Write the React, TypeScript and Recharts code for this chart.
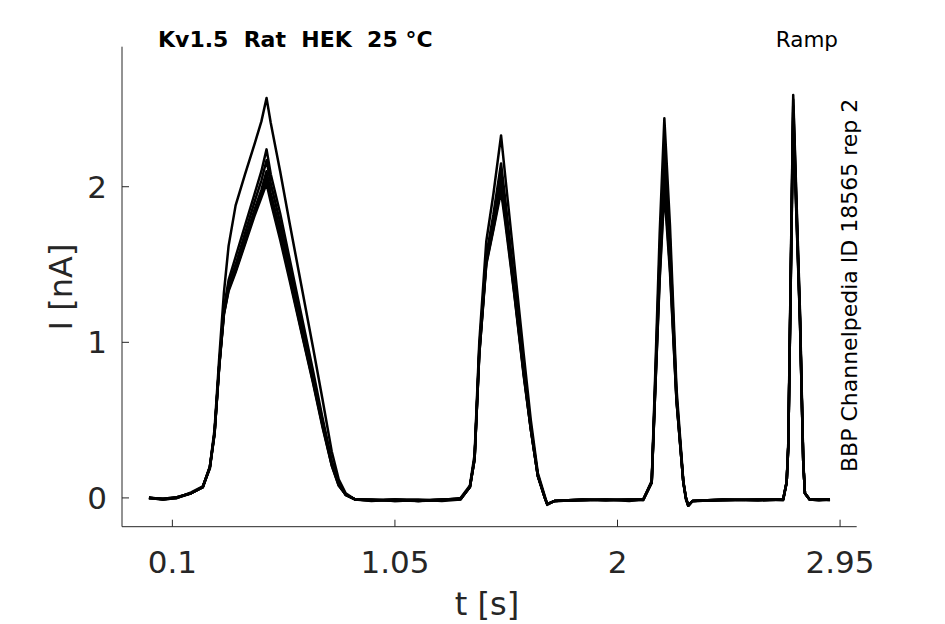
import React from 'react';
import { LineChart, Line, XAxis, YAxis } from 'recharts';

// time [s], shared by all sweeps
const times = [
  0, 0.06, 0.12, 0.18, 0.23, 0.26, 0.28, 0.3, 0.32, 0.34,
  0.37, 0.41, 0.45, 0.48, 0.502, 0.52, 0.56, 0.6, 0.65, 0.7,
  0.74, 0.78, 0.81, 0.84, 0.88, 0.95, 1.05, 1.15, 1.25, 1.33,
  1.37, 1.39, 1.41, 1.44, 1.47, 1.503, 1.52, 1.56, 1.6, 1.63,
  1.66, 1.69, 1.7, 1.73, 1.85, 1.95, 2.05, 2.11, 2.146, 2.16,
  2.18, 2.2, 2.224, 2.252, 2.281, 2.292, 2.302, 2.32, 2.45, 2.6,
  2.707, 2.722, 2.729, 2.75, 2.779, 2.793, 2.8, 2.82, 2.86, 2.907,
];

// current [nA], one array per sweep
const sweepA = [
  0, -0.01, 0.005, 0.03, 0.07, 0.2, 0.44, 0.9, 1.32, 1.62,
  1.88, 2.08, 2.27, 2.42, 2.57, 2.41, 2.1, 1.77, 1.37, 0.97,
  0.64, 0.3, 0.12, 0.03, -0.01, -0.015, -0.01, -0.02, -0.015, 0,
  0.08, 0.28, 1.0, 1.65, 1.95, 2.33, 2.08, 1.5, 0.92, 0.5,
  0.16, 0.01, -0.04, -0.02, -0.015, -0.01, -0.015, -0.01, 0.11, 0.75,
  1.7, 2.44, 1.75, 0.7, 0.11, 0, -0.05, -0.02, -0.015, -0.01,
  -0.01, 0.1, 0.36, 2.59, 1.2, 0.24, 0.03, -0.01, -0.01, -0.01,
];
const sweepB = [
  0, -0.005, 0, 0.035, 0.075, 0.19, 0.42, 0.86, 1.22, 1.4,
  1.55, 1.75, 1.95, 2.1, 2.24, 2.08, 1.83, 1.54, 1.18, 0.82,
  0.52, 0.24, 0.1, 0.02, -0.01, -0.01, -0.02, -0.015, -0.01, -0.005,
  0.07, 0.26, 0.96, 1.56, 1.82, 2.15, 1.93, 1.38, 0.84, 0.46,
  0.15, 0, -0.04, -0.02, -0.01, -0.015, -0.01, -0.01, 0.1, 0.7,
  1.58, 2.28, 1.65, 0.66, 0.1, 0, -0.05, -0.02, -0.01, -0.015,
  -0.01, 0.1, 0.34, 2.56, 1.17, 0.23, 0.03, -0.01, -0.015, -0.01,
];
const sweepC = [
  0.005, -0.01, 0, 0.03, 0.07, 0.2, 0.41, 0.85, 1.2, 1.37,
  1.5, 1.7, 1.9, 2.04, 2.17, 2.02, 1.77, 1.49, 1.14, 0.79,
  0.5, 0.23, 0.09, 0.02, -0.01, -0.02, -0.01, -0.01, -0.02, -0.01,
  0.07, 0.25, 0.94, 1.53, 1.78, 2.1, 1.89, 1.35, 0.82, 0.45,
  0.14, 0, -0.04, -0.02, -0.015, -0.01, -0.02, -0.01, 0.1, 0.68,
  1.52, 2.2, 1.6, 0.64, 0.1, -0.01, -0.05, -0.02, -0.015, -0.01,
  -0.015, 0.1, 0.33, 2.52, 1.15, 0.22, 0.03, -0.01, -0.01, -0.015,
];
const sweepD = [
  0, -0.005, 0.005, 0.03, 0.07, 0.2, 0.42, 0.85, 1.19, 1.35,
  1.48, 1.66, 1.85, 1.98, 2.1, 1.96, 1.72, 1.45, 1.1, 0.76,
  0.48, 0.22, 0.09, 0.02, -0.01, -0.015, -0.015, -0.02, -0.01, -0.01,
  0.07, 0.25, 0.93, 1.52, 1.75, 2.05, 1.85, 1.33, 0.8, 0.44,
  0.14, 0, -0.045, -0.02, -0.01, -0.015, -0.01, -0.015, 0.1, 0.66,
  1.46, 2.1, 1.53, 0.63, 0.1, 0, -0.05, -0.02, -0.01, -0.015,
  -0.01, 0.1, 0.33, 2.48, 1.14, 0.22, 0.03, -0.01, -0.015, -0.01,
];
const sweepE = [
  0, -0.01, 0, 0.03, 0.07, 0.19, 0.41, 0.84, 1.18, 1.34,
  1.46, 1.64, 1.83, 1.95, 2.06, 1.93, 1.69, 1.42, 1.08, 0.75,
  0.47, 0.21, 0.08, 0.02, -0.01, -0.01, -0.02, -0.015, -0.015, -0.005,
  0.07, 0.25, 0.92, 1.51, 1.73, 2.0, 1.81, 1.31, 0.79, 0.44,
  0.14, 0, -0.04, -0.02, -0.015, -0.01, -0.015, -0.01, 0.1, 0.65,
  1.42, 2.02, 1.48, 0.62, 0.1, 0, -0.05, -0.02, -0.015, -0.01,
  -0.01, 0.1, 0.33, 2.45, 1.13, 0.22, 0.03, -0.01, -0.01, -0.01,
];
const sweepF = [
  0, -0.005, 0.005, 0.03, 0.07, 0.2, 0.42, 0.85, 1.18, 1.33,
  1.45, 1.63, 1.81, 1.93, 2.02, 1.9, 1.66, 1.4, 1.07, 0.74,
  0.46, 0.21, 0.08, 0.02, -0.01, -0.015, -0.01, -0.02, -0.01, -0.005,
  0.07, 0.25, 0.92, 1.5, 1.72, 1.97, 1.78, 1.3, 0.78, 0.44,
  0.14, 0, -0.04, -0.02, -0.01, -0.015, -0.01, -0.01, 0.1, 0.65,
  1.4, 1.97, 1.45, 0.62, 0.1, 0, -0.05, -0.02, -0.01, -0.015,
  -0.01, 0.1, 0.33, 2.42, 1.12, 0.22, 0.03, -0.01, -0.01, -0.01,
];

const xTicks = [0.1, 1.05, 2, 2.95];
const yTicks = [0, 1, 2];

const sweeps = { a: sweepA, b: sweepB, c: sweepC, d: sweepD, e: sweepE, f: sweepF };
const data = times.map((t, i) => {
  const row: Record<string, number> = { t };
  Object.entries(sweeps).forEach(([k, arr]) => {
    row[k] = arr[i];
  });
  return row;
});

const axisColor = '#262626';
const font = 'DejaVu Sans';

const App = () => {
  return (
    <div
      style={{
        position: 'fixed',
        left: 0,
        top: 0,
        width: 945,
        height: 624,
        background: 'white',
      }}
    >
      <LineChart
        width={945}
        height={624}
        data={data}
        margin={{ top: 46.7, right: 88.3, left: 62, bottom: 57.3 }}
      >
        <XAxis
          dataKey="t"
          type="number"
          domain={[-0.115, 3.021]}
          allowDataOverflow
          ticks={xTicks}
          tickFormatter={(v) => String(v)}
          height={40}
          stroke={axisColor}
          tickSize={-7}
          tickMargin={31}
          tick={{ fontSize: 31, fill: axisColor, fontFamily: font }}
        />
        <YAxis
          type="number"
          domain={[-0.185, 2.9]}
          allowDataOverflow
          ticks={yTicks}
          width={60}
          stroke={axisColor}
          tickSize={-7}
          tickMargin={22}
          tick={{ fontSize: 31, fill: axisColor, fontFamily: font }}
        />
        {Object.keys(sweeps).map((k) => (
          <Line
            key={k}
            type="linear"
            dataKey={k}
            stroke="#000"
            strokeWidth={2.5}
            strokeLinejoin="round"
            dot={false}
            isAnimationActive={false}
          />
        ))}
      </LineChart>
      <svg
        width={945}
        height={624}
        style={{ position: 'absolute', left: 0, top: 0, pointerEvents: 'none' }}
        fontFamily={font}
      >
        <text x={158} y={47} fontSize={22} fontWeight="bold" fill="#000" style={{ whiteSpace: 'pre' }}>
          {'Kv1.5  Rat  HEK  25 °C'}
        </text>
        <text x={838} y={47} fontSize={21.5} fill="#000" textAnchor="end">
          Ramp
        </text>
        <text
          x={857}
          y={472}
          fontSize={22}
          fill="#000"
          transform="rotate(-90 857 472)"
        >
          BBP Channelpedia ID 18565 rep 2
        </text>
        <text x={487} y={615} fontSize={32} fill={axisColor} textAnchor="middle">
          t [s]
        </text>
        <text
          x={72}
          y={287}
          fontSize={32}
          fill={axisColor}
          textAnchor="middle"
          transform="rotate(-90 72 287)"
        >
          I [nA]
        </text>
      </svg>
    </div>
  );
};

export default App;
